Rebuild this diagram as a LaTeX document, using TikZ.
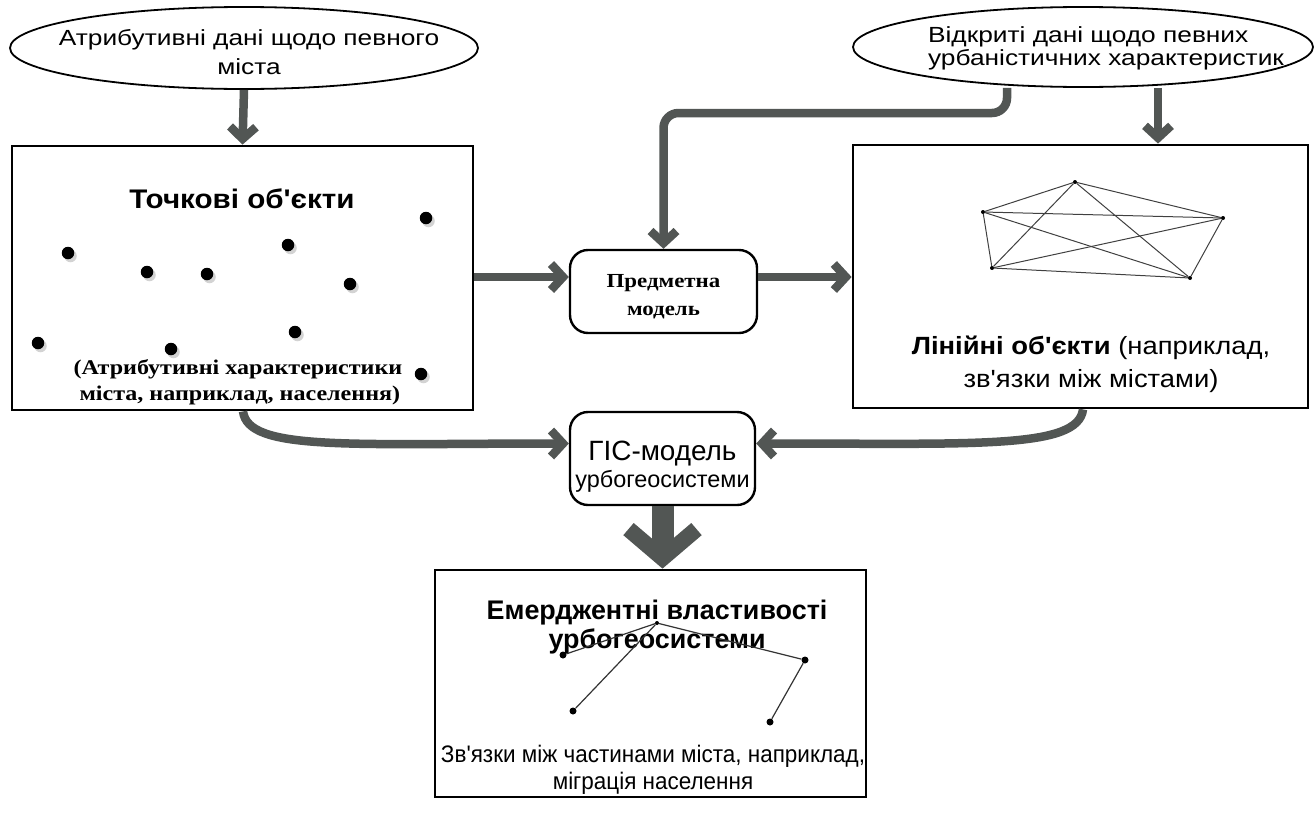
\documentclass[tikz,border=0pt]{standalone}
\usepackage{fontspec}
\setmainfont{Liberation Sans}[Ligatures=TeXOff]
\newfontfamily\widesans{Liberation Sans}[Ligatures=TeXOff,FakeStretch=1.2]
\newfontfamily\midsans{Liberation Sans}[Ligatures=TeXOff,FakeStretch=1.1]
\newfontfamily\narrowsans{Liberation Sans}[Ligatures=TeXOff,FakeStretch=0.94]
\newfontfamily\timesfont{Liberation Serif}[Ligatures=TeXOff,FakeStretch=1.15]
\usepackage{xcolor}
\usetikzlibrary{arrows.meta,shapes.geometric,positioning,shadows}

\definecolor{flowgray}{RGB}{82,86,84}

\begin{document}
\begin{tikzpicture}[x=1bp,y=-1bp,
	>={Straight Barb[length=12bp,width=26bp]},
	flow/.style={draw=flowgray,line width=8.5bp,->},
	bigflow/.style={draw=flowgray,line width=22bp,-{Straight Barb[length=29bp,width=68bp,line width'=16bp]}},
	source/.style={ellipse,draw,line width=1.8bp,inner sep=0pt},
	bigbox/.style={rectangle,draw,line width=2.8bp,inner sep=0pt},
	modelbox/.style={rectangle,rounded corners=18bp,draw,line width=2.4bp,inner sep=0pt},
	citydot/.style={circle,fill=black,inner sep=0pt,minimum size=12.5bp,
		drop shadow={shadow xshift=2.5bp,shadow yshift=-3bp,opacity=.35}},
	netdot/.style={circle,fill=black,inner sep=0pt,minimum size=4bp},
	netline/.style={draw=black!75,line width=1bp},
	linkdot/.style={circle,fill=black,inner sep=0pt,minimum size=7bp},
	linkline/.style={draw=black!80,line width=1.2bp}]

	\useasboundingbox (0,0) rectangle (1316,825);

	% data sources
	\node (lattr) at (244,48)  [source,minimum width=468bp,minimum height=82bp] {};
	\node (lattrtext) at (249,52) [align=center,font=\fontsize{22}{29}\selectfont\widesans] {Атрибутивні дані щодо певного\\міста};
	\node (ropen) at (1083,47) [source,minimum width=460bp,minimum height=80bp] {};
	\node (ropentext) at (1106,48) [align=left,font=\fontsize{22}{23}\selectfont\widesans] {Відкриті дані щодо певних\\урбаністичних характеристик};

	% point objects
	\node (lbox) at (242.5,278) [bigbox,minimum width=461bp,minimum height=264bp] {};
	\node (ptitle) at (242,199) [font=\fontsize{27}{30}\selectfont\midsans\bfseries] {Точкові об'єкти};
	\node (pnote) at (70,382) [anchor=west,align=left,font=\fontsize{21}{26}\selectfont\timesfont\bfseries] {(Атрибутивні характеристики\\\hspace{6bp}міста, наприклад, населення)};
	\foreach \x/\y [count=\i] in {68/253,147/272,207/274,288/245,350/284,426/218,38/343,171/349,295/332,421/374}
		\node (p\i) at (\x,\y) [citydot] {};

	% line objects
	\node (rbox) at (1080.5,276.5) [bigbox,minimum width=455bp,minimum height=263bp] {};
	\node (n1) at (1075,182) [netdot] {};
	\node (n2) at (983,212)  [netdot] {};
	\node (n3) at (1223,218) [netdot] {};
	\node (n4) at (992,268)  [netdot] {};
	\node (n5) at (1190,278) [netdot] {};
	\foreach \a/\b in {n1/n2,n1/n3,n1/n4,n1/n5,n2/n3,n2/n4,n2/n5,n3/n4,n3/n5,n4/n5}
		\draw [netline] (\a) -- (\b);
	\node (lnote) at (1091,364) [align=center,font=\fontsize{25}{33}\selectfont\midsans] {\textbf{Лінійні об'єкти} (наприклад,\\зв'язки між містами)};

	% models
	\node (pm)  at (663.5,291.5) [modelbox,minimum width=187bp,minimum height=83bp,align=center,
		font=\fontsize{20}{28}\selectfont\timesfont\bfseries] {\rule{0pt}{24bp}Предметна\\модель};
	\node (gis) at (662.5,458.5) [modelbox,minimum width=185bp,minimum height=93bp,align=center] {\rule{0pt}{36bp}{\fontsize{28}{28}\selectfont ГІС-модель}\\[4bp]{\fontsize{23.5}{23.5}\selectfont урбогеосистеми}};

	% emergent properties
	\node (ebox) at (650.5,683.5) [bigbox,minimum width=431bp,minimum height=227bp] {};
	\node (etitle) at (657,627) [align=center,font=\fontsize{27}{29}\selectfont\bfseries] {Емерджентні властивості\\урбогеосистеми};
	\node (e1) at (563,655) [linkdot] {};
	\node (e2) at (657,623) [netdot] {};
	\node (e3) at (805,660) [linkdot] {};
	\node (e4) at (573,711) [linkdot] {};
	\node (e5) at (770,722) [linkdot] {};
	\foreach \a/\b in {e1/e2,e2/e3,e2/e4,e3/e5}
		\draw [linkline] (\a) -- (\b);
	\node (enote) at (653,770) [align=center,font=\fontsize{24}{27}\selectfont\narrowsans] {Зв'язки між частинами міста, наприклад,\\міграція населення};

	\coordinate (rdrop) at (1158,0);
	\coordinate (rsplit) at (1007,113);
	\coordinate (pmrow) at (0,277);
	\coordinate (lout) at (243,0);
	\coordinate (rout) at (1083,0);

	\draw [flow] (lattr.south) -- (lbox.north);
	\draw [flow] (ropen.south -| rdrop) -- (rbox.north -| rdrop);
	\draw [flow,rounded corners=15bp] (ropen.south -| rsplit) -- (rsplit) -| (pm.north);
	\draw [flow] (lbox.east |- pmrow) -- (pm.west |- pmrow);
	\draw [flow] (pm.east |- pmrow) -- (rbox.west |- pmrow);
	\draw [flow] (lbox.south -| lout) .. controls +(5,40) and +(-220,0) .. ([yshift=15bp]gis.west);
	\draw [flow] (rbox.south -| rout) .. controls +(-5,40) and +(220,0) .. ([yshift=15bp]gis.east);
	\draw [bigflow] (gis.south) -- (gis.south |- ebox.north);
\end{tikzpicture}
\end{document}
